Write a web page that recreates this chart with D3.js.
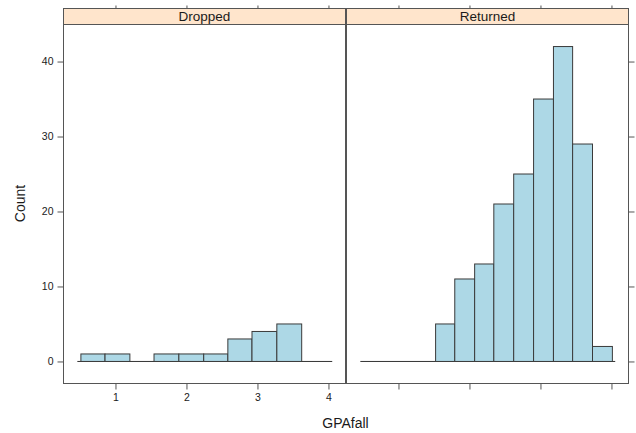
<!DOCTYPE html>
<html>
<head>
<meta charset="utf-8">
<script src="https://d3js.org/d3.v7.min.js"></script>
<style>
  body { margin: 0; background: #fff; }
  text { font-family: "Liberation Sans", Arial, sans-serif; fill: #1a1a1a; }
</style>
</head>
<body>
<div id="canvas"></div>
<script>
// panel names (strip labels)
var panels = ["Dropped", "Returned"];

// histogram breaks (GPAfall) and counts
var dropBreaks = [0.52, 0.86, 1.21, 1.55, 1.90, 2.25, 2.59, 2.93, 3.28, 3.63];
var dropCounts = [1, 1, 0, 1, 1, 1, 3, 4, 5];

var retBreaks = [1.53, 1.80, 2.08, 2.35, 2.63, 2.91, 3.19, 3.46, 3.74, 4.02];
var retCounts = [5, 11, 13, 21, 25, 35, 42, 29, 2];

// zero line drawn under each histogram
var baseRange = [0.47, 4.06];

var xTicks = [1, 2, 3, 4];
var yTicks = [0, 10, 20, 30, 40];
var xDomain = [0.268, 4.24];
var yDomain = [-2.94, 44.94];

var W = 636, H = 433;
var panelTop = 24, panelBottom = 383, stripTop = 8;
var panelX = [[63, 345], [346, 628]];

var svg = d3.select("#canvas").append("svg")
    .attr("width", W)
    .attr("height", H);

var y = d3.scaleLinear().domain(yDomain).range([panelBottom, panelTop]);

var data = [
  { name: panels[0], breaks: dropBreaks, counts: dropCounts },
  { name: panels[1], breaks: retBreaks, counts: retCounts }
];

data.forEach(function (p, i) {
  var x = d3.scaleLinear().domain(xDomain).range(panelX[i]);
  var g = svg.append("g");

  // zero line
  g.append("line")
    .attr("x1", x(baseRange[0])).attr("x2", x(baseRange[1]))
    .attr("y1", y(0) + 0.5).attr("y2", y(0) + 0.5)
    .attr("stroke", "#333").attr("stroke-width", 1);

  // bars
  var bins = p.counts.map(function (c, k) {
    return { x0: p.breaks[k], x1: p.breaks[k + 1], n: c };
  }).filter(function (d) { return d.n > 0; });

  g.selectAll("rect.bar").data(bins).enter().append("rect")
    .attr("class", "bar")
    .attr("x", function (d) { return x(d.x0); })
    .attr("width", function (d) { return x(d.x1) - x(d.x0); })
    .attr("y", function (d) { return y(d.n) + 0.5; })
    .attr("height", function (d) { return y(0) - y(d.n); })
    .attr("fill", "#ADD8E6")
    .attr("stroke", "#3a3a3a")
    .attr("stroke-width", 1);

  // panel border
  g.append("rect")
    .attr("x", panelX[i][0] + 0.5).attr("y", panelTop + 0.5)
    .attr("width", panelX[i][1] - panelX[i][0]).attr("height", panelBottom - panelTop)
    .attr("fill", "none").attr("stroke", "#555");

  // strip
  g.append("rect")
    .attr("x", panelX[i][0] + 0.5).attr("y", stripTop + 0.5)
    .attr("width", panelX[i][1] - panelX[i][0]).attr("height", panelTop - stripTop)
    .attr("fill", "#FFE5CC").attr("stroke", "#555");
  g.append("text")
    .attr("x", (panelX[i][0] + panelX[i][1]) / 2 + 0.5)
    .attr("y", panelTop - 3.5)
    .attr("text-anchor", "middle")
    .style("font-size", "13.5px")
    .text(p.name);

  // bottom axis (labels only on first panel), top ticks
  var bAxis = d3.axisBottom(x).tickValues(xTicks).tickSizeOuter(0).tickSize(6).tickPadding(4)
    .tickFormat(i == 0 ? d3.format("d") : "");
  var ba = g.append("g").attr("transform", "translate(0.5," + (panelBottom + 0.5) + ")").call(bAxis);
  ba.select(".domain").remove();
  ba.selectAll("text").style("font-size", "10.5px").attr("fill", "#1a1a1a");
  ba.selectAll("line").attr("stroke", "#555");

  var ta = g.append("g").attr("transform", "translate(0.5," + (stripTop + 0.5) + ")")
    .call(d3.axisTop(x).tickValues(xTicks).tickSize(3).tickFormat(""));
  ta.select(".domain").remove();
  ta.selectAll("line").attr("stroke", "#555");

  // y axis: labels on the left panel, ticks only on the right panel
  var yAxis = i == 0 ? d3.axisLeft(y).tickFormat(d3.format("d")) : d3.axisRight(y).tickFormat("");
  yAxis.tickValues(yTicks).tickSize(6).tickPadding(4);
  var ya = g.append("g")
    .attr("transform", "translate(" + (panelX[i][i] + 0.5) + ",0.5)")
    .call(yAxis);
  ya.select(".domain").remove();
  ya.selectAll("text").style("font-size", "10.5px").attr("fill", "#1a1a1a");
  ya.selectAll("line").attr("stroke", "#555");
});

// axis titles
svg.append("text")
  .attr("x", 345.5).attr("y", 428)
  .attr("text-anchor", "middle")
  .style("font-size", "14px")
  .text("GPAfall");

svg.append("text")
  .attr("transform", "translate(25," + ((panelTop + panelBottom) / 2) + ") rotate(-90)")
  .attr("text-anchor", "middle")
  .style("font-size", "14px")
  .text("Count");
</script>
</body>
</html>
